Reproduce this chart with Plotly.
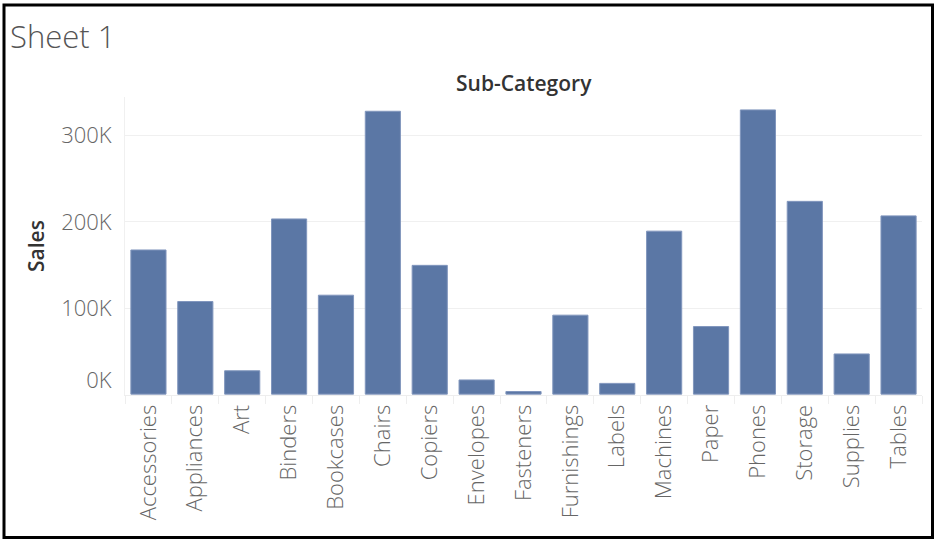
import plotly.graph_objects as go

categories = ["Accessories", "Appliances", "Art", "Binders", "Bookcases", "Chairs",
              "Copiers", "Envelopes", "Fasteners", "Furnishings", "Labels", "Machines",
              "Paper", "Phones", "Storage", "Supplies", "Tables"]
sales = [167380, 107532, 27119, 203413, 114880, 328449, 149528, 16476, 3024,
         91705, 12486, 189239, 78479, 330007, 223844, 46674, 206966]
y_tick_vals = [0, 100000, 200000, 300000]
y_tick_text = ["0K<br> ", "100K", "200K", "300K"]

W, H = 937, 542
ML, MR, MT, MB = 125, 15, 97, 147
PW, PH = W - ML - MR, H - MT - MB

def px_x(x):
    return (x - ML) / PW

def px_y(y):
    return (H - MB - y) / PH

FONT = "Open Sans"

fig = go.Figure(go.Bar(
    x=categories, y=sales,
    marker=dict(color="#5b77a5", line=dict(color="#8196bd", width=1)),
    hoverinfo="x+y",
))

fig.update_layout(
    width=W, height=H,
    margin=dict(l=ML, r=MR, t=MT, b=MB),
    paper_bgcolor="white", plot_bgcolor="white",
    bargap=0.25,
    showlegend=False,
    font=dict(family=FONT, color="#666666"),
    xaxis=dict(
        tickangle=-90, tickfont=dict(size=22, color="#666666", family=FONT, weight=300),
        showgrid=False, showline=True, linecolor="#eeeeee", linewidth=1,
        ticks="outside", tickson="boundaries", ticklen=8, tickcolor="#eeeeee",
        range=[-0.5, len(categories) - 0.5], fixedrange=True,
    ),
    yaxis=dict(
        range=[-1000, 345000],
        tickvals=y_tick_vals, ticktext=y_tick_text,
        tickfont=dict(size=22, color="#666666", family=FONT, weight=300),
        showgrid=True, gridcolor="#f0f0f0", gridwidth=1,
        zeroline=False, showline=True, linecolor="#f0f0f0",
        ticks="", ticklabelstandoff=8,
        fixedrange=True,
    ),
    annotations=[
        dict(text="Sheet 1", x=px_x(8), y=px_y(36), xref="paper", yref="paper",
             xanchor="left", yanchor="middle", showarrow=False,
             font=dict(size=31, color="#555555", family=FONT, weight=300)),
        dict(text="Sub-Category", x=0.5, y=px_y(83), xref="paper", yref="paper",
             xanchor="center", yanchor="middle", showarrow=False,
             font=dict(size=21, color="#333333", family=FONT, weight=600)),
        dict(text="Sales", x=px_x(36), y=0.5, xref="paper", yref="paper",
             xanchor="center", yanchor="middle", showarrow=False, textangle=-90,
             font=dict(size=21, color="#333333", family=FONT, weight=600)),
    ],
    shapes=[
        dict(type="rect", xref="paper", yref="paper",
             x0=px_x(4), x1=px_x(932.5), y0=px_y(5), y1=px_y(537.5),
             line=dict(color="black", width=3), fillcolor="rgba(0,0,0,0)", layer="above"),
    ],
)

fig.write_html("out.html", config={"displayModeBar": False},
               post_script="document.body.style.margin='0';")
